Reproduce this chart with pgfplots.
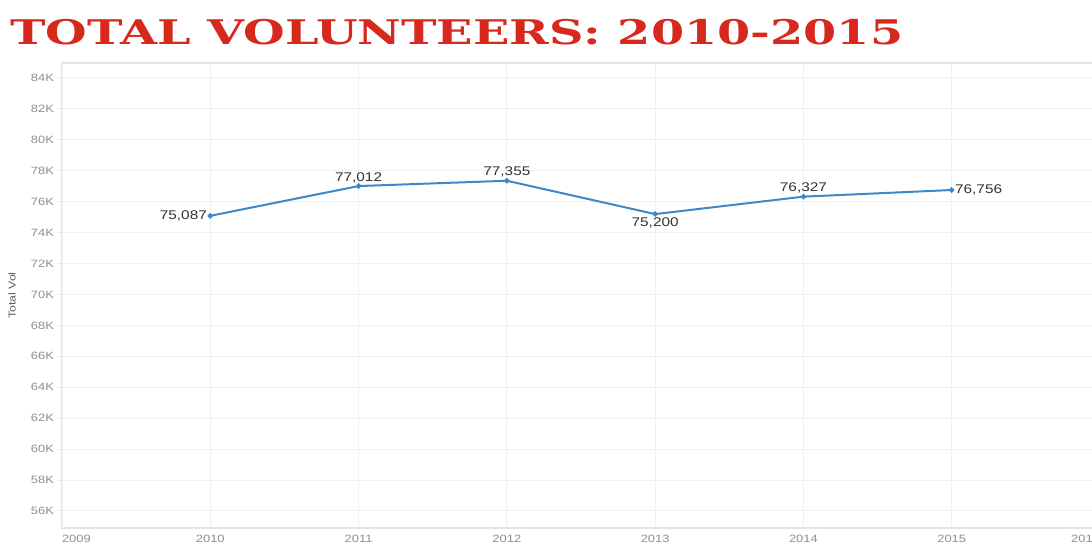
\documentclass[border=0pt]{standalone}
\usepackage{fontspec}
\setmainfont{Liberation Sans}[FakeStretch=1.22]
\newfontfamily\titlefont{DejaVu Serif}
\usepackage{pgfplots}
\usepackage{pgfplotstable}
\pgfplotsset{compat=1.18}

\definecolor{titlered}{HTML}{D7281E}
\definecolor{lineblue}{HTML}{3C88C8}
\definecolor{tickgray}{HTML}{8E8E8E}
\definecolor{labelgray}{HTML}{333333}
\definecolor{gridgray}{HTML}{F0F0F0}
\definecolor{axisgray}{HTML}{E4E4E4}

\pgfplotstableread{
year vol   lab
2010 75087 75,087
2011 77012 77,012
2012 77355 77,355
2013 75200 75,200
2014 76327 76,327
2015 76756 76,756
}\voldata

\pgfplotsset{
  vlabels/.style={
    draw=none, mark=none,
    point meta=explicit symbolic,
    nodes near coords,
    every node near coord/.style={anchor=#1, inner sep=1.5bp,
      font=\fontsize{6.3bp}{7bp}\selectfont, text=labelgray},
  },
}

\begin{document}
\begin{tikzpicture}
  % title, stretched to the width it has in the reference
  \node[anchor=base west, inner sep=0, text=titlered] at (5bp,253.5bp)
    {\resizebox{446.5bp}{12.6bp}{\titlefont\bfseries TOTAL VOLUNTEERS: 2010-2015}};

  \begin{axis}[
      at={(31bp,12bp)}, anchor=south west,
      scale only axis,
      width=519bp, height=232.5bp,
      xmin=2009, xmax=2016,
      ymin=54900, ymax=84970,
      xtick={2010,2011,2012,2013,2014,2015},
      extra x ticks={2009,2016},
      extra x tick labels={\makebox[0pt][l]{2009},\makebox[0pt][r]{2016}},
      ytick={56000,58000,...,84000},
      yticklabels={56K,58K,60K,62K,64K,66K,68K,70K,72K,74K,76K,78K,80K,82K,84K},
      scaled y ticks=false,
      /pgf/number format/assume math mode=true,
      /pgf/number format/1000 sep={},
      xmajorgrids, ymajorgrids,
      grid style={gridgray, line width=0.5bp},
      axis line style={axisgray, line width=0.6bp},
      tick style={axisgray, line width=0.5bp},
      tick align=outside,
      major tick length=2.5bp,
      xtick style={draw=none},
      ticklabel style={font=\fontsize{5.3bp}{6bp}\selectfont, text=tickgray},
      xticklabel style={yshift=2.5bp},
      yticklabel style={xshift=2bp},
      xlabel={Year},
      xlabel style={at={(rel axis cs:0.5,0)}, anchor=north, yshift=-9.5bp,
        font=\fontsize{5.3bp}{6bp}\selectfont, text=tickgray},
      ylabel={Total Vol},
      ylabel style={at={(rel axis cs:0,0.5)}, anchor=center, yshift=25bp,
        font=\fontsize{5bp}{6bp}\selectfont, text=labelgray!80},
      clip=false,
  ]
  \addplot[color=lineblue, line width=1bp, mark=*, mark size=0.8bp]
      table[x=year, y=vol] {\voldata};
  % value labels, placed round the points as in the reference
  \addplot[vlabels=east, skip coords between index={1}{6}]
      table[x=year, y=vol, meta=lab] {\voldata};
  \addplot[vlabels=south, skip coords between index={0}{1},
      skip coords between index={3}{4}, skip coords between index={5}{6}]
      table[x=year, y=vol, meta=lab] {\voldata};
  \addplot[vlabels=north, skip coords between index={0}{3},
      skip coords between index={4}{6}]
      table[x=year, y=vol, meta=lab] {\voldata};
  \addplot[vlabels=west, skip coords between index={0}{5}]
      table[x=year, y=vol, meta=lab] {\voldata};
  \end{axis}

  \pgfresetboundingbox
  \path[use as bounding box] (0,0) rectangle (546bp,276bp);
\end{tikzpicture}
\end{document}
